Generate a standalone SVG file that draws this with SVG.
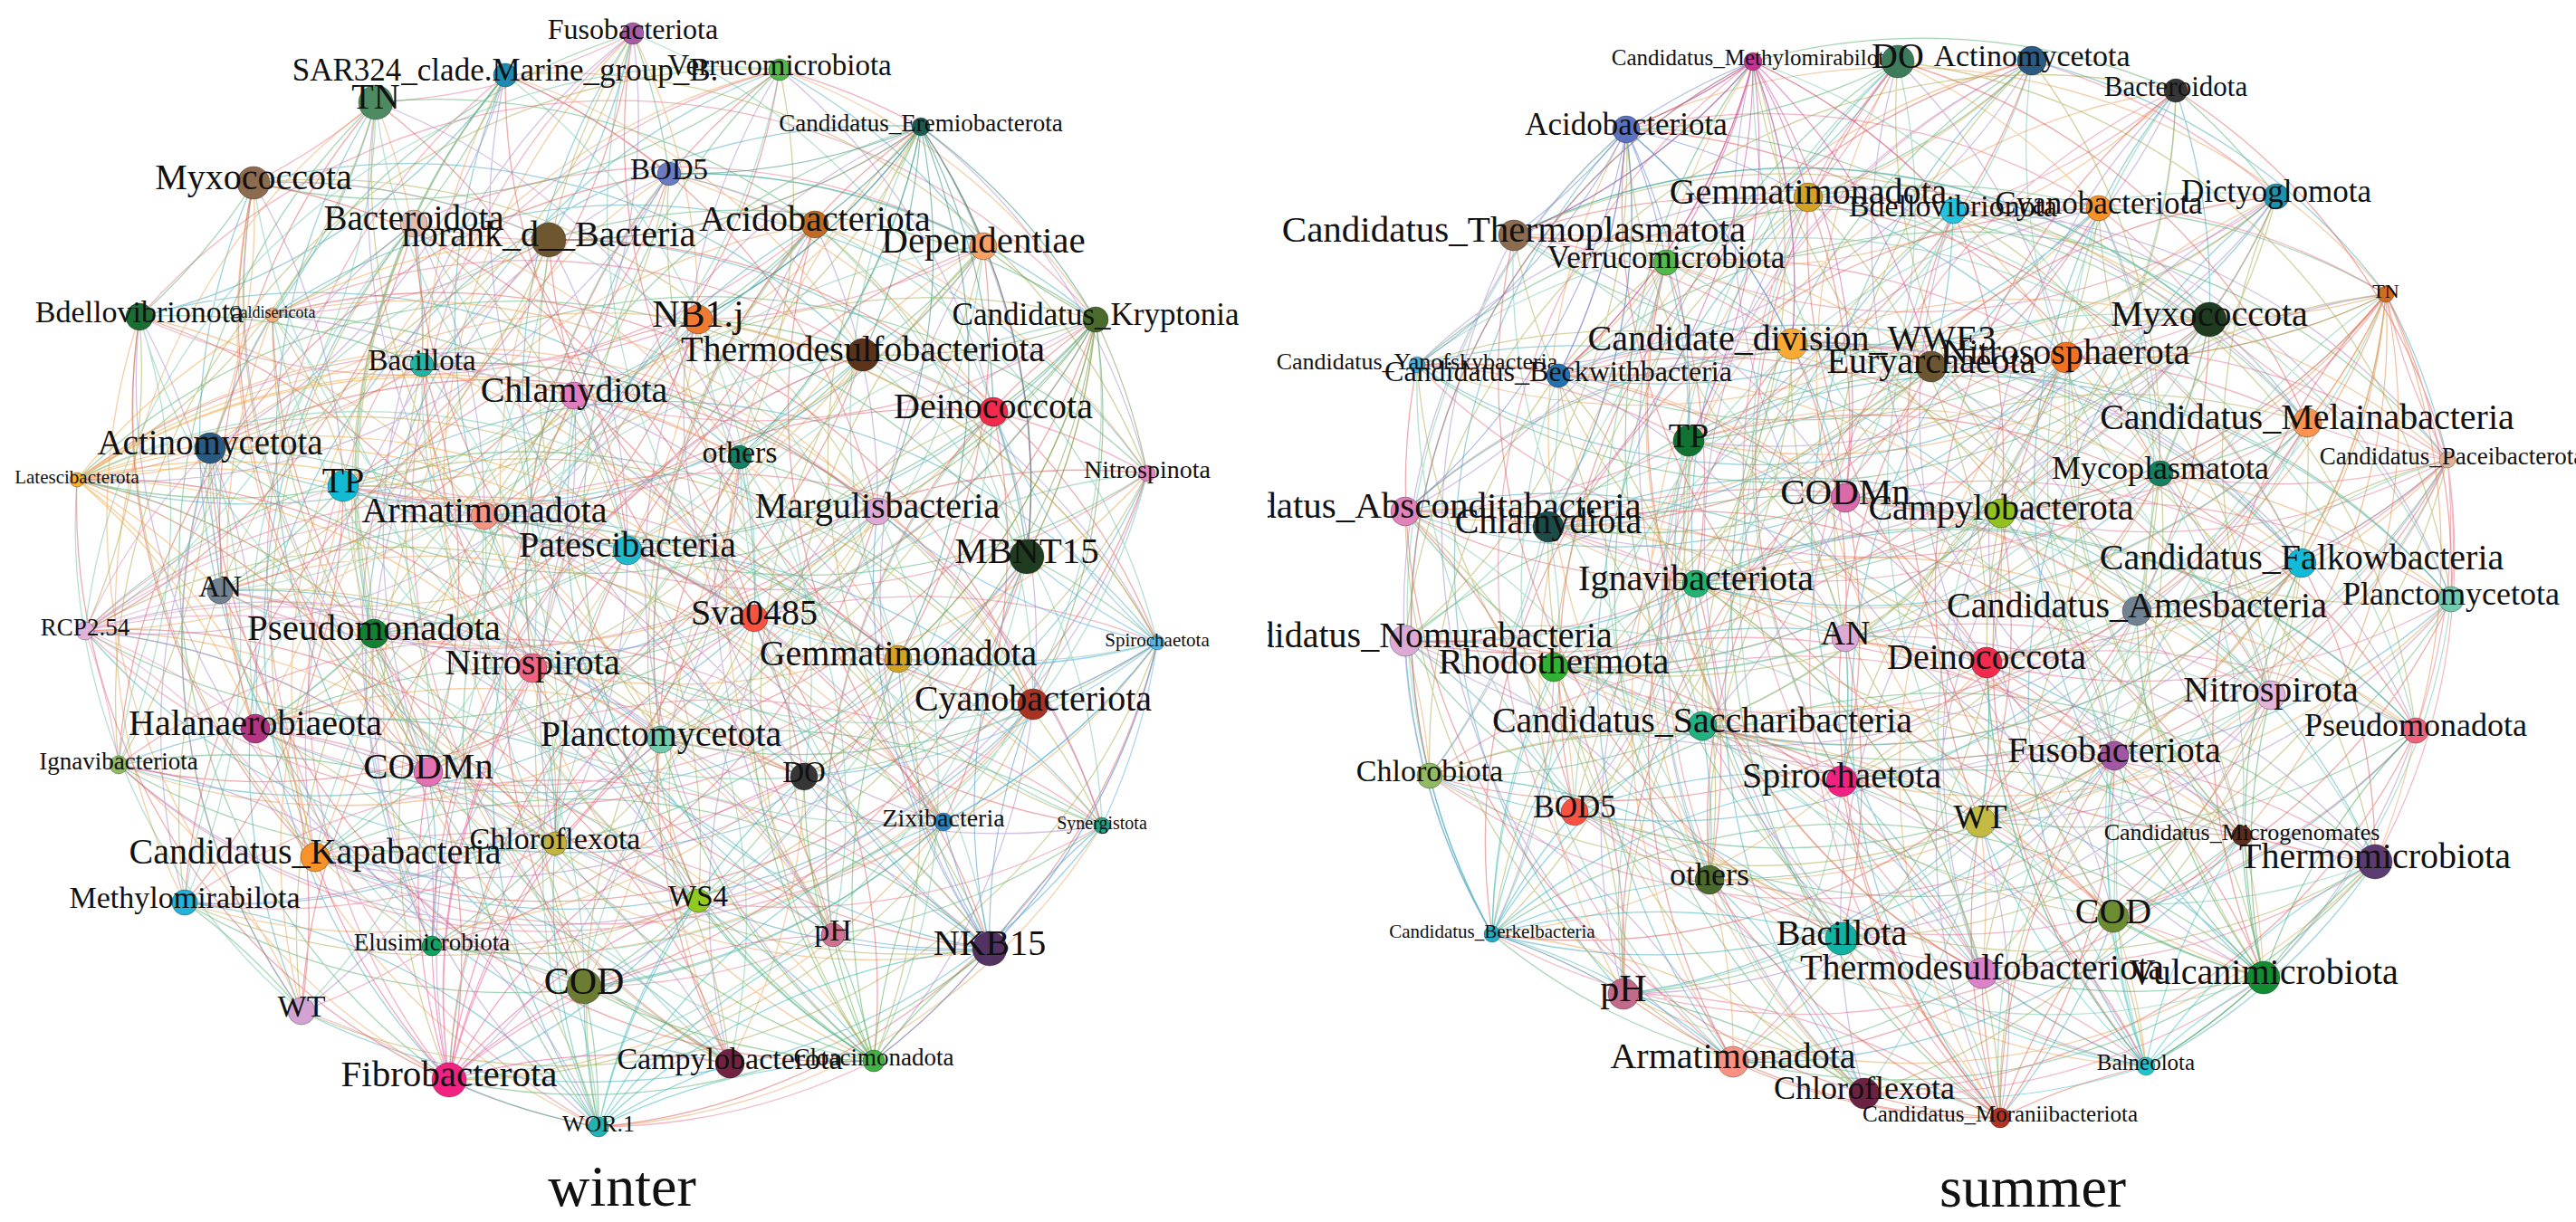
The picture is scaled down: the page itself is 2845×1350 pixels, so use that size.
<svg xmlns="http://www.w3.org/2000/svg" width="2845" height="1350" viewBox="0 0 2845 1350">
<style>
.e{fill:none;stroke-width:1.3;stroke-opacity:.5}
.f{fill:none;stroke-width:1.2;stroke-opacity:.55}
.n circle{stroke:#000;stroke-opacity:.3;stroke-width:1}
.n text{font-family:"Liberation Serif","Times New Roman",serif;text-anchor:middle;fill:#111}
.t{font-family:"Liberation Serif","Times New Roman",serif;font-size:64px;text-anchor:middle;fill:#111}
</style>
<defs><clipPath id="cs"><rect x="1400" y="0" width="1445" height="1350"/></clipPath></defs>
<rect width="2845" height="1350" fill="#fff"/>
<g id="winter">
<g id="winter-edges">
<path class="e" stroke="#e8708c" d="M699 37A700 700 0 0 1 415 113 700 700 0 0 1 280 202 700 700 0 0 1 606 265 700 700 0 0 1 301 348 700 700 0 0 1 953 392 700 700 0 0 1 1097 455 700 700 0 0 1 1267 523 700 700 0 0 1 535 570 700 700 0 0 1 1134 615 700 700 0 0 1 94 697 700 700 0 0 1 992 728 700 700 0 0 1 282 805 700 700 0 0 1 473 853 700 700 0 0 1 1217 912 700 700 0 0 1 771 995 700 700 0 0 1 477 1045 700 700 0 0 1 333 1117 700 700 0 0 1 496 1193 700 700 0 0 1 861 77 700 700 0 0 1 1017 140 700 700 0 0 1 457 247 700 700 0 0 1 1086 272 700 700 0 0 1 771 353 700 700 0 0 1 466 403 700 700 0 0 1 232 495 700 700 0 0 1 85 530 700 700 0 0 1 969 565 700 700 0 0 1 243 653 700 700 0 0 1 413 700 700 700 0 0 1 588 738 700 700 0 0 1 730 817 700 700 0 0 1 888 858 700 700 0 0 1 613 932 700 700 0 0 1 204 997 700 700 0 0 1 1093 1048 700 700 0 0 1 965 1172 700 700 0 0 1 661 1245 700 700 0 0 1 558 83 700 700 0 0 1 739 192 700 700 0 0 1 900 248 700 700 0 0 1 154 350 700 700 0 0 1 1210 353 700 700 0 0 1 634 437 700 700 0 0 1 817 505 700 700 0 0 1 379 537 700 700 0 0 1 693 608 700 700 0 0 1 833 683 700 700 0 0 1 1278 710 700 700 0 0 1 1141 778 700 700 0 0 1 131 845 700 700 0 0 1 1042 908 700 700 0 0 1 348 947 700 700 0 0 1 920 1033 700 700 0 0 1 645 1090 700 700 0 0 1 806 1175 700 700 0 0 1 699 37"/>
<path class="e" stroke="#4fae6a" d="M699 37A700 700 0 0 1 739 192 700 700 0 0 1 1086 272 700 700 0 0 1 953 392 700 700 0 0 1 817 505 700 700 0 0 1 969 565 700 700 0 0 1 94 697 700 700 0 0 1 1141 778 700 700 0 0 1 888 858 700 700 0 0 1 771 995 700 700 0 0 1 645 1090 700 700 0 0 1 661 1245 700 700 0 0 1 1017 140 700 700 0 0 1 606 265 700 700 0 0 1 1210 353 700 700 0 0 1 232 495 700 700 0 0 1 535 570 700 700 0 0 1 833 683 700 700 0 0 1 588 738 700 700 0 0 1 473 853 700 700 0 0 1 348 947 700 700 0 0 1 1093 1048 700 700 0 0 1 496 1193 700 700 0 0 1 415 113 700 700 0 0 1 900 248 700 700 0 0 1 771 353 700 700 0 0 1 1097 455 700 700 0 0 1 379 537 700 700 0 0 1 243 653 700 700 0 0 1 992 728 700 700 0 0 1 131 845 700 700 0 0 1 613 932 700 700 0 0 1 477 1045 700 700 0 0 1 806 1175 700 700 0 0 1 558 83 700 700 0 0 1 457 247 700 700 0 0 1 301 348 700 700 0 0 1 634 437 700 700 0 0 1 85 530 700 700 0 0 1 1134 615 700 700 0 0 1 1278 710 700 700 0 0 1 730 817 700 700 0 0 1 1217 912 700 700 0 0 1 920 1033 700 700 0 0 1 965 1172 700 700 0 0 1 861 77 700 700 0 0 1 280 202 700 700 0 0 1 154 350 700 700 0 0 1 466 403 700 700 0 0 1 1267 523 700 700 0 0 1 693 608 700 700 0 0 1 413 700 700 700 0 0 1 282 805 700 700 0 0 1 1042 908 700 700 0 0 1 204 997 700 700 0 0 1 333 1117 700 700 0 0 1 699 37"/>
<path class="e" stroke="#3aa6ba" d="M699 37A700 700 0 0 1 606 265 700 700 0 0 1 1097 455 700 700 0 0 1 1134 615 700 700 0 0 1 282 805 700 700 0 0 1 771 995 700 700 0 0 1 496 1193 700 700 0 0 1 457 247 700 700 0 0 1 466 403 700 700 0 0 1 969 565 700 700 0 0 1 588 738 700 700 0 0 1 613 932 700 700 0 0 1 965 1172 700 700 0 0 1 739 192 700 700 0 0 1 1210 353 700 700 0 0 1 379 537 700 700 0 0 1 1278 710 700 700 0 0 1 1042 908 700 700 0 0 1 645 1090 700 700 0 0 1 415 113 700 700 0 0 1 301 348 700 700 0 0 1 1267 523 700 700 0 0 1 94 697 700 700 0 0 1 473 853 700 700 0 0 1 477 1045 700 700 0 0 1 861 77 700 700 0 0 1 1086 272 700 700 0 0 1 232 495 700 700 0 0 1 243 653 700 700 0 0 1 730 817 700 700 0 0 1 204 997 700 700 0 0 1 661 1245 700 700 0 0 1 900 248 700 700 0 0 1 634 437 700 700 0 0 1 693 608 700 700 0 0 1 1141 778 700 700 0 0 1 348 947 700 700 0 0 1 806 1175 700 700 0 0 1 280 202 700 700 0 0 1 953 392 700 700 0 0 1 535 570 700 700 0 0 1 992 728 700 700 0 0 1 1217 912 700 700 0 0 1 333 1117 700 700 0 0 1 1017 140 700 700 0 0 1 771 353 700 700 0 0 1 85 530 700 700 0 0 1 413 700 700 700 0 0 1 888 858 700 700 0 0 1 1093 1048 700 700 0 0 1 558 83 700 700 0 0 1 154 350 700 700 0 0 1 817 505 700 700 0 0 1 833 683 700 700 0 0 1 131 845 700 700 0 0 1 920 1033 700 700 0 0 1 699 37"/>
<path class="e" stroke="#eca050" d="M699 37A700 700 0 0 1 771 353 700 700 0 0 1 693 608 700 700 0 0 1 473 853 700 700 0 0 1 965 1172 700 700 0 0 1 606 265 700 700 0 0 1 85 530 700 700 0 0 1 1141 778 700 700 0 0 1 477 1045 700 700 0 0 1 739 192 700 700 0 0 1 1097 455 700 700 0 0 1 413 700 700 700 0 0 1 348 947 700 700 0 0 1 861 77 700 700 0 0 1 1210 353 700 700 0 0 1 1134 615 700 700 0 0 1 888 858 700 700 0 0 1 806 1175 700 700 0 0 1 1086 272 700 700 0 0 1 379 537 700 700 0 0 1 282 805 700 700 0 0 1 1093 1048 700 700 0 0 1 280 202 700 700 0 0 1 232 495 700 700 0 0 1 1278 710 700 700 0 0 1 771 995 700 700 0 0 1 558 83 700 700 0 0 1 953 392 700 700 0 0 1 243 653 700 700 0 0 1 1042 908 700 700 0 0 1 496 1193 700 700 0 0 1 154 350 700 700 0 0 1 535 570 700 700 0 0 1 730 817 700 700 0 0 1 645 1090 700 700 0 0 1 457 247 700 700 0 0 1 817 505 700 700 0 0 1 992 728 700 700 0 0 1 204 997 700 700 0 0 1 415 113 700 700 0 0 1 466 403 700 700 0 0 1 833 683 700 700 0 0 1 1217 912 700 700 0 0 1 661 1245 700 700 0 0 1 301 348 700 700 0 0 1 969 565 700 700 0 0 1 131 845 700 700 0 0 1 333 1117 700 700 0 0 1 900 248 700 700 0 0 1 1267 523 700 700 0 0 1 588 738 700 700 0 0 1 920 1033 700 700 0 0 1 1017 140 700 700 0 0 1 634 437 700 700 0 0 1 94 697 700 700 0 0 1 613 932 700 700 0 0 1 699 37"/>
<path class="e" stroke="#a783c9" d="M699 37A700 700 0 0 1 634 437 700 700 0 0 1 588 738 700 700 0 0 1 333 1117 700 700 0 0 1 301 348 700 700 0 0 1 833 683 700 700 0 0 1 204 997 700 700 0 0 1 457 247 700 700 0 0 1 535 570 700 700 0 0 1 1042 908 700 700 0 0 1 558 83 700 700 0 0 1 232 495 700 700 0 0 1 282 805 700 700 0 0 1 806 1175 700 700 0 0 1 1210 353 700 700 0 0 1 413 700 700 700 0 0 1 477 1045 700 700 0 0 1 606 265 700 700 0 0 1 693 608 700 700 0 0 1 613 932 700 700 0 0 1 1017 140 700 700 0 0 1 1267 523 700 700 0 0 1 131 845 700 700 0 0 1 661 1245 700 700 0 0 1 466 403 700 700 0 0 1 992 728 700 700 0 0 1 645 1090 700 700 0 0 1 154 350 700 700 0 0 1 243 653 700 700 0 0 1 771 995 700 700 0 0 1 280 202 700 700 0 0 1 379 537 700 700 0 0 1 888 858 700 700 0 0 1 861 77 700 700 0 0 1 1097 455 700 700 0 0 1 1141 778 700 700 0 0 1 965 1172 700 700 0 0 1 771 353 700 700 0 0 1 94 697 700 700 0 0 1 920 1033 700 700 0 0 1 900 248 700 700 0 0 1 969 565 700 700 0 0 1 1217 912 700 700 0 0 1 415 113 700 700 0 0 1 817 505 700 700 0 0 1 730 817 700 700 0 0 1 496 1193 700 700 0 0 1 953 392 700 700 0 0 1 1278 710 700 700 0 0 1 1093 1048 700 700 0 0 1 1086 272 700 700 0 0 1 1134 615 700 700 0 0 1 348 947 700 700 0 0 1 739 192 700 700 0 0 1 85 530 700 700 0 0 1 473 853 700 700 0 0 1 699 37"/>
<path class="e" stroke="#a8a84a" d="M699 37A700 700 0 0 1 232 495 700 700 0 0 1 131 845 700 700 0 0 1 861 77 700 700 0 0 1 817 505 700 700 0 0 1 473 853 700 700 0 0 1 558 83 700 700 0 0 1 1267 523 700 700 0 0 1 888 858 700 700 0 0 1 415 113 700 700 0 0 1 85 530 700 700 0 0 1 1042 908 700 700 0 0 1 1017 140 700 700 0 0 1 379 537 700 700 0 0 1 1217 912 700 700 0 0 1 739 192 700 700 0 0 1 535 570 700 700 0 0 1 613 932 700 700 0 0 1 280 202 700 700 0 0 1 969 565 700 700 0 0 1 348 947 700 700 0 0 1 457 247 700 700 0 0 1 693 608 700 700 0 0 1 771 995 700 700 0 0 1 900 248 700 700 0 0 1 1134 615 700 700 0 0 1 204 997 700 700 0 0 1 606 265 700 700 0 0 1 243 653 700 700 0 0 1 920 1033 700 700 0 0 1 1086 272 700 700 0 0 1 833 683 700 700 0 0 1 477 1045 700 700 0 0 1 154 350 700 700 0 0 1 94 697 700 700 0 0 1 1093 1048 700 700 0 0 1 301 348 700 700 0 0 1 413 700 700 700 0 0 1 645 1090 700 700 0 0 1 771 353 700 700 0 0 1 1278 710 700 700 0 0 1 333 1117 700 700 0 0 1 1210 353 700 700 0 0 1 992 728 700 700 0 0 1 965 1172 700 700 0 0 1 953 392 700 700 0 0 1 588 738 700 700 0 0 1 806 1175 700 700 0 0 1 466 403 700 700 0 0 1 1141 778 700 700 0 0 1 496 1193 700 700 0 0 1 634 437 700 700 0 0 1 282 805 700 700 0 0 1 661 1245 700 700 0 0 1 1097 455 700 700 0 0 1 730 817 700 700 0 0 1 699 37"/>
<path class="e" stroke="#e05858" d="M699 37A700 700 0 0 1 379 537 700 700 0 0 1 204 997 700 700 0 0 1 771 353 700 700 0 0 1 282 805 700 700 0 0 1 415 113 700 700 0 0 1 693 608 700 700 0 0 1 1093 1048 700 700 0 0 1 466 403 700 700 0 0 1 473 853 700 700 0 0 1 280 202 700 700 0 0 1 833 683 700 700 0 0 1 965 1172 700 700 0 0 1 232 495 700 700 0 0 1 1217 912 700 700 0 0 1 606 265 700 700 0 0 1 1278 710 700 700 0 0 1 661 1245 700 700 0 0 1 85 530 700 700 0 0 1 771 995 700 700 0 0 1 301 348 700 700 0 0 1 1141 778 700 700 0 0 1 558 83 700 700 0 0 1 969 565 700 700 0 0 1 477 1045 700 700 0 0 1 953 392 700 700 0 0 1 131 845 700 700 0 0 1 739 192 700 700 0 0 1 243 653 700 700 0 0 1 333 1117 700 700 0 0 1 1097 455 700 700 0 0 1 1042 908 700 700 0 0 1 900 248 700 700 0 0 1 413 700 700 700 0 0 1 496 1193 700 700 0 0 1 1267 523 700 700 0 0 1 348 947 700 700 0 0 1 154 350 700 700 0 0 1 588 738 700 700 0 0 1 861 77 700 700 0 0 1 535 570 700 700 0 0 1 920 1033 700 700 0 0 1 1210 353 700 700 0 0 1 730 817 700 700 0 0 1 1017 140 700 700 0 0 1 1134 615 700 700 0 0 1 645 1090 700 700 0 0 1 634 437 700 700 0 0 1 888 858 700 700 0 0 1 457 247 700 700 0 0 1 94 697 700 700 0 0 1 806 1175 700 700 0 0 1 817 505 700 700 0 0 1 613 932 700 700 0 0 1 1086 272 700 700 0 0 1 992 728 700 700 0 0 1 699 37"/>
<path class="e" stroke="#6cc4a4" d="M699 37A700 700 0 0 1 1134 615 700 700 0 0 1 496 1193 700 700 0 0 1 969 565 700 700 0 0 1 965 1172 700 700 0 0 1 379 537 700 700 0 0 1 645 1090 700 700 0 0 1 1267 523 700 700 0 0 1 477 1045 700 700 0 0 1 232 495 700 700 0 0 1 204 997 700 700 0 0 1 634 437 700 700 0 0 1 348 947 700 700 0 0 1 953 392 700 700 0 0 1 1217 912 700 700 0 0 1 771 353 700 700 0 0 1 888 858 700 700 0 0 1 154 350 700 700 0 0 1 131 845 700 700 0 0 1 606 265 700 700 0 0 1 282 805 700 700 0 0 1 457 247 700 700 0 0 1 588 738 700 700 0 0 1 739 192 700 700 0 0 1 1278 710 700 700 0 0 1 415 113 700 700 0 0 1 94 697 700 700 0 0 1 861 77 700 700 0 0 1 243 653 700 700 0 0 1 661 1245 700 700 0 0 1 693 608 700 700 0 0 1 806 1175 700 700 0 0 1 535 570 700 700 0 0 1 333 1117 700 700 0 0 1 85 530 700 700 0 0 1 1093 1048 700 700 0 0 1 817 505 700 700 0 0 1 920 1033 700 700 0 0 1 1097 455 700 700 0 0 1 771 995 700 700 0 0 1 466 403 700 700 0 0 1 613 932 700 700 0 0 1 1210 353 700 700 0 0 1 1042 908 700 700 0 0 1 301 348 700 700 0 0 1 473 853 700 700 0 0 1 1086 272 700 700 0 0 1 730 817 700 700 0 0 1 900 248 700 700 0 0 1 1141 778 700 700 0 0 1 280 202 700 700 0 0 1 992 728 700 700 0 0 1 1017 140 700 700 0 0 1 413 700 700 700 0 0 1 558 83 700 700 0 0 1 833 683 700 700 0 0 1 699 37"/>
<path class="f" stroke="#f2a43a" d="M85 530A700 700 0 0 1 379 537M85 530A700 700 0 0 1 535 570M85 530A700 700 0 0 1 693 608M85 530A700 700 0 0 1 833 683M85 530A700 700 0 0 1 817 505M85 530A700 700 0 0 1 413 700M85 530A700 700 0 0 1 282 805M85 530A700 700 0 0 1 634 437M85 530A700 700 0 0 1 466 403M85 530A700 700 0 0 1 473 853M85 530A700 700 0 0 1 348 947M85 530A700 700 0 0 1 606 265M85 530A700 700 0 0 1 243 653M85 530A700 700 0 0 1 588 738"/>
<path class="f" stroke="#f0508a" d="M496 1193A700 700 0 0 1 613 932M496 1193A700 700 0 0 1 771 995M496 1193A700 700 0 0 1 477 1045M496 1193A700 700 0 0 1 645 1090M496 1193A700 700 0 0 1 473 853M496 1193A700 700 0 0 1 730 817M496 1193A700 700 0 0 1 588 738M496 1193A700 700 0 0 1 920 1033M496 1193A700 700 0 0 1 888 858M496 1193A700 700 0 0 1 348 947M496 1193A700 700 0 0 1 806 1175M496 1193A700 700 0 0 1 693 608M496 1193A700 700 0 0 1 833 683"/>
<path class="f" stroke="#2a8a7a" d="M1017 140A700 700 0 0 1 900 248M1017 140A700 700 0 0 1 953 392M1017 140A700 700 0 0 1 1086 272M1017 140A700 700 0 0 1 1097 455M1017 140A700 700 0 0 1 969 565M1017 140A700 700 0 0 1 771 353M1017 140A700 700 0 0 1 817 505M1017 140A700 700 0 0 1 1134 615M1017 140A700 700 0 0 1 1210 353M1017 140A700 700 0 0 1 739 192M1017 140A700 700 0 0 1 992 728"/>
<path class="f" stroke="#6a9a4a" d="M1210 353A700 700 0 0 1 1097 455M1210 353A700 700 0 0 1 1134 615M1210 353A700 700 0 0 1 969 565M1210 353A700 700 0 0 1 992 728M1210 353A700 700 0 0 1 1141 778M1210 353A700 700 0 0 1 953 392M1210 353A700 700 0 0 1 1086 272M1210 353A700 700 0 0 1 833 683M1210 353A700 700 0 0 1 888 858M1210 353A700 700 0 0 1 1267 523"/>
<path class="f" stroke="#4a98c8" d="M1093 1048A700 700 0 0 1 1042 908M1093 1048A700 700 0 0 1 888 858M1093 1048A700 700 0 0 1 1141 778M1093 1048A700 700 0 0 1 992 728M1093 1048A700 700 0 0 1 920 1033M1093 1048A700 700 0 0 1 1134 615M1093 1048A700 700 0 0 1 833 683M1093 1048A700 700 0 0 1 1217 912M1093 1048A700 700 0 0 1 965 1172M1093 1048A700 700 0 0 1 771 995M1093 1048A700 700 0 0 1 969 565"/>
<path class="f" stroke="#5ab0e6" d="M1278 710A700 700 0 0 1 1141 778M1278 710A700 700 0 0 1 1134 615M1278 710A700 700 0 0 1 992 728M1278 710A700 700 0 0 1 1042 908M1278 710A700 700 0 0 1 1217 912M1278 710A700 700 0 0 1 1093 1048M1278 710A700 700 0 0 1 833 683M1278 710A700 700 0 0 1 969 565M1278 710A700 700 0 0 1 1097 455M1278 710A700 700 0 0 1 888 858"/>
<path class="f" stroke="#e488b8" d="M94 697A700 700 0 0 1 243 653M94 697A700 700 0 0 1 413 700M94 697A700 700 0 0 1 282 805M94 697A700 700 0 0 1 473 853M94 697A700 700 0 0 1 379 537M94 697A700 700 0 0 1 232 495M94 697A700 700 0 0 1 348 947M94 697A700 700 0 0 1 588 738M94 697A700 700 0 0 1 535 570M94 697A700 700 0 0 1 131 845"/>
<path class="f" stroke="#2ab4b4" d="M661 1245A700 700 0 0 1 645 1090M661 1245A700 700 0 0 1 806 1175M661 1245A700 700 0 0 1 771 995M661 1245A700 700 0 0 1 965 1172M661 1245A700 700 0 0 1 920 1033M661 1245A700 700 0 0 1 613 932M661 1245A700 700 0 0 1 1093 1048M661 1245A700 700 0 0 1 1042 908M661 1245A700 700 0 0 1 888 858M661 1245A700 700 0 0 1 496 1193"/>
<path class="f" stroke="#4cb24c" d="M965 1172A700 700 0 0 1 1093 1048M965 1172A700 700 0 0 1 920 1033M965 1172A700 700 0 0 1 771 995M965 1172A700 700 0 0 1 1042 908M965 1172A700 700 0 0 1 888 858M965 1172A700 700 0 0 1 730 817M965 1172A700 700 0 0 1 833 683M965 1172A700 700 0 0 1 645 1090M965 1172A700 700 0 0 1 613 932M965 1172A700 700 0 0 1 992 728"/>
</g>
<g id="winter-nodes" class="n">
<g id="w-Fusobacteriota"><circle cx="699" cy="37" r="12" fill="#a85ca8"/><text x="699" y="43" font-size="32">Fusobacteriota</text></g>
<g id="w-Verrucomicrobiota"><circle cx="861" cy="77" r="12" fill="#55b84a"/><text x="861" y="83" font-size="33">Verrucomicrobiota</text></g>
<g id="w-SAR324"><circle cx="558" cy="83" r="13" fill="#1b8bb2"/><text x="558" y="89" font-size="35">SAR324_clade.Marine_group_B.</text></g>
<g id="w-TN"><circle cx="415" cy="113" r="19" fill="#4d8a62"/><text x="415" y="120" font-size="40">TN</text></g>
<g id="w-Eremiobacterota"><circle cx="1017" cy="140" r="10" fill="#1b5c52"/><text x="1017" y="145" font-size="27">Candidatus_Eremiobacterota</text></g>
<g id="w-BOD5"><circle cx="739" cy="192" r="13" fill="#6b7bc2"/><text x="739" y="198" font-size="33">BOD5</text></g>
<g id="w-Myxococcota"><circle cx="280" cy="202" r="18" fill="#8c6b4f"/><text x="280" y="209" font-size="40">Myxococcota</text></g>
<g id="w-Bacteroidota"><circle cx="457" cy="247" r="15" fill="#e4bcac"/><text x="457" y="254" font-size="39">Bacteroidota</text></g>
<g id="w-Acidobacteriota"><circle cx="900" cy="248" r="15" fill="#c26a22"/><text x="900" y="255" font-size="40">Acidobacteriota</text></g>
<g id="w-norank"><circle cx="606" cy="265" r="19" fill="#6e5630"/><text x="606" y="272" font-size="40">norank_d__Bacteria</text></g>
<g id="w-Dependentiae"><circle cx="1086" cy="272" r="15" fill="#f9a062"/><text x="1086" y="279" font-size="41">Dependentiae</text></g>
<g id="w-Bdellovibrionota"><circle cx="154" cy="350" r="15" fill="#1b6e32"/><text x="154" y="356" font-size="34">Bdellovibrionota</text></g>
<g id="w-Caldisericota"><circle cx="301" cy="348" r="8" fill="#f5b07e"/><text x="301" y="351" font-size="18">Caldisericota</text></g>
<g id="w-NB1j"><circle cx="771" cy="353" r="16" fill="#f27a30"/><text x="771" y="361" font-size="42">NB1.j</text></g>
<g id="w-Kryptonia"><circle cx="1210" cy="353" r="14" fill="#4b6b2e"/><text x="1210" y="359" font-size="35">Candidatus_Kryptonia</text></g>
<g id="w-Thermodesulfobacteriota"><circle cx="953" cy="392" r="18" fill="#5c321a"/><text x="953" y="399" font-size="40">Thermodesulfobacteriota</text></g>
<g id="w-Bacillota"><circle cx="466" cy="403" r="13" fill="#22b4a4"/><text x="466" y="409" font-size="33">Bacillota</text></g>
<g id="w-Chlamydiota"><circle cx="634" cy="437" r="15" fill="#e27cc0"/><text x="634" y="444" font-size="40">Chlamydiota</text></g>
<g id="w-Deinococcota"><circle cx="1097" cy="455" r="16" fill="#f22a4c"/><text x="1097" y="462" font-size="40">Deinococcota</text></g>
<g id="w-Actinomycetota"><circle cx="232" cy="495" r="17" fill="#2b5a80"/><text x="232" y="502" font-size="39">Actinomycetota</text></g>
<g id="w-others"><circle cx="817" cy="505" r="13" fill="#128262"/><text x="817" y="511" font-size="34">others</text></g>
<g id="w-Nitrospinota"><circle cx="1267" cy="523" r="9" fill="#e285c4"/><text x="1267" y="528" font-size="28">Nitrospinota</text></g>
<g id="w-Latescibacterota"><circle cx="85" cy="530" r="8" fill="#f8b232"/><text x="85" y="534" font-size="21">Latescibacterota</text></g>
<g id="w-TP"><circle cx="379" cy="537" r="17" fill="#12bad4"/><text x="379" y="544" font-size="40">TP</text></g>
<g id="w-Armatimonadota"><circle cx="535" cy="570" r="15" fill="#f99282"/><text x="535" y="577" font-size="40">Armatimonadota</text></g>
<g id="w-Margulisbacteria"><circle cx="969" cy="565" r="15" fill="#dcaad4"/><text x="969" y="572" font-size="40">Margulisbacteria</text></g>
<g id="w-Patescibacteria"><circle cx="693" cy="608" r="16" fill="#22bacb"/><text x="693" y="615" font-size="40">Patescibacteria</text></g>
<g id="w-MBNT15"><circle cx="1134" cy="615" r="19" fill="#203c20"/><text x="1134" y="622" font-size="41">MBNT15</text></g>
<g id="w-AN"><circle cx="243" cy="653" r="14" fill="#718292"/><text x="243" y="659" font-size="33">AN</text></g>
<g id="w-Sva0485"><circle cx="833" cy="683" r="15" fill="#fa5242"/><text x="833" y="690" font-size="40">Sva0485</text></g>
<g id="w-RCP254"><circle cx="94" cy="697" r="10" fill="#e2b4dc"/><text x="94" y="702" font-size="27">RCP2.54</text></g>
<g id="w-Pseudomonadota"><circle cx="413" cy="700" r="16" fill="#118232"/><text x="413" y="707" font-size="41">Pseudomonadota</text></g>
<g id="w-Spirochaetota"><circle cx="1278" cy="710" r="8" fill="#55b4e4"/><text x="1278" y="714" font-size="21">Spirochaetota</text></g>
<g id="w-Gemmatimonadota"><circle cx="992" cy="728" r="15" fill="#d4a222"/><text x="992" y="735" font-size="40">Gemmatimonadota</text></g>
<g id="w-Nitrospirota"><circle cx="588" cy="738" r="16" fill="#f26282"/><text x="588" y="745" font-size="40">Nitrospirota</text></g>
<g id="w-Cyanobacteriota"><circle cx="1141" cy="778" r="17" fill="#aa3222"/><text x="1141" y="785" font-size="40">Cyanobacteriota</text></g>
<g id="w-Halanaerobiaeota"><circle cx="282" cy="805" r="16" fill="#b23482"/><text x="282" y="812" font-size="40">Halanaerobiaeota</text></g>
<g id="w-Planctomycetota"><circle cx="730" cy="817" r="15" fill="#74caae"/><text x="730" y="824" font-size="40">Planctomycetota</text></g>
<g id="w-Ignavibacteriota"><circle cx="131" cy="845" r="10" fill="#92ba62"/><text x="131" y="850" font-size="27">Ignavibacteriota</text></g>
<g id="w-CODMn"><circle cx="473" cy="853" r="16" fill="#e272b4"/><text x="473" y="860" font-size="41">CODMn</text></g>
<g id="w-DO"><circle cx="888" cy="858" r="15" fill="#363636"/><text x="888" y="864" font-size="33">DO</text></g>
<g id="w-Zixibacteria"><circle cx="1042" cy="908" r="10" fill="#2282c2"/><text x="1042" y="913" font-size="28">Zixibacteria</text></g>
<g id="w-Synergistota"><circle cx="1217" cy="912" r="9" fill="#22a282"/><text x="1217" y="916" font-size="20">Synergistota</text></g>
<g id="w-Chloroflexota"><circle cx="613" cy="932" r="13" fill="#c2b242"/><text x="613" y="938" font-size="34">Chloroflexota</text></g>
<g id="w-Kapabacteria"><circle cx="348" cy="947" r="16" fill="#fa922a"/><text x="348" y="954" font-size="40">Candidatus_Kapabacteria</text></g>
<g id="w-WS4"><circle cx="771" cy="995" r="13" fill="#92ca22"/><text x="771" y="1001" font-size="33">WS4</text></g>
<g id="w-Methylomirabilota"><circle cx="204" cy="997" r="14" fill="#22b2da"/><text x="204" y="1003" font-size="34">Methylomirabilota</text></g>
<g id="w-pH"><circle cx="920" cy="1033" r="13" fill="#d27292"/><text x="920" y="1039" font-size="34">pH</text></g>
<g id="w-Elusimicrobiota"><circle cx="477" cy="1045" r="11" fill="#12a262"/><text x="477" y="1050" font-size="27">Elusimicrobiota</text></g>
<g id="w-NKB15"><circle cx="1093" cy="1048" r="19" fill="#523262"/><text x="1093" y="1055" font-size="40">NKB15</text></g>
<g id="w-COD"><circle cx="645" cy="1090" r="19" fill="#6c7c32"/><text x="645" y="1098" font-size="42">COD</text></g>
<g id="w-WT"><circle cx="333" cy="1117" r="15" fill="#d2a2d2"/><text x="333" y="1123" font-size="34">WT</text></g>
<g id="w-Cloacimonadota"><circle cx="965" cy="1172" r="12" fill="#42b242"/><text x="965" y="1177" font-size="27">Cloacimonadota</text></g>
<g id="w-Campylobacterota"><circle cx="806" cy="1175" r="16" fill="#722242"/><text x="806" y="1181" font-size="34">Campylobacterota</text></g>
<g id="w-Fibrobacterota"><circle cx="496" cy="1193" r="19" fill="#f22282"/><text x="496" y="1200" font-size="41">Fibrobacterota</text></g>
<g id="w-WOR1"><circle cx="661" cy="1245" r="11" fill="#22b2b2"/><text x="661" y="1250" font-size="26">WOR.1</text></g>
</g>
<text class="t" x="687" y="1332">winter</text>
</g>
<g id="summer" clip-path="url(#cs)">
<g id="summer-edges">
<path class="e" stroke="#4fae6a" d="M1936 68A700 700 0 0 1 2403 100 700 700 0 0 1 2514 217 700 700 0 0 1 1672 260 700 700 0 0 1 2440 353 700 700 0 0 1 1565 403 700 700 0 0 1 2548 467 700 700 0 0 1 2386 523 700 700 0 0 1 2210 567 700 700 0 0 1 1873 645 700 700 0 0 1 2038 705 700 700 0 0 1 1716 737 700 700 0 0 1 2668 807 700 700 0 0 1 2034 863 700 700 0 0 1 2476 923 700 700 0 0 1 2334 1013 700 700 0 0 1 2189 1075 700 700 0 0 1 1914 1173 700 700 0 0 1 2209 1235 700 700 0 0 1 2244 67 700 700 0 0 1 1997 218 700 700 0 0 1 2318 230 700 700 0 0 1 2635 325 700 700 0 0 1 2282 395 700 700 0 0 1 1721 415 700 700 0 0 1 2703 508 700 700 0 0 1 1552 565 700 700 0 0 1 2542 622 700 700 0 0 1 2360 675 700 700 0 0 1 2194 732 700 700 0 0 1 1880 802 700 700 0 0 1 1579 857 700 700 0 0 1 2187 908 700 700 0 0 1 1888 972 700 700 0 0 1 2034 1037 700 700 0 0 1 1793 1098 700 700 0 0 1 2059 1208 700 700 0 0 1 2096 68 700 700 0 0 1 1796 143 700 700 0 0 1 2157 233 700 700 0 0 1 1840 290 700 700 0 0 1 1979 380 700 700 0 0 1 2133 405 700 700 0 0 1 1865 487 700 700 0 0 1 2038 550 700 700 0 0 1 1710 582 700 700 0 0 1 2707 662 700 700 0 0 1 1552 708 700 700 0 0 1 2508 768 700 700 0 0 1 2335 835 700 700 0 0 1 1739 897 700 700 0 0 1 2623 952 700 700 0 0 1 1648 1032 700 700 0 0 1 2500 1080 700 700 0 0 1 2370 1178 700 700 0 0 1 1936 68"/>
<path class="e" stroke="#e8708c" d="M1936 68A700 700 0 0 1 1796 143 700 700 0 0 1 2318 230 700 700 0 0 1 2440 353 700 700 0 0 1 2133 405 700 700 0 0 1 2703 508 700 700 0 0 1 2210 567 700 700 0 0 1 2707 662 700 700 0 0 1 2194 732 700 700 0 0 1 2668 807 700 700 0 0 1 1739 897 700 700 0 0 1 1888 972 700 700 0 0 1 2189 1075 700 700 0 0 1 2370 1178 700 700 0 0 1 2096 68 700 700 0 0 1 1997 218 700 700 0 0 1 1672 260 700 700 0 0 1 1979 380 700 700 0 0 1 1721 415 700 700 0 0 1 2386 523 700 700 0 0 1 1710 582 700 700 0 0 1 2360 675 700 700 0 0 1 1716 737 700 700 0 0 1 2335 835 700 700 0 0 1 2187 908 700 700 0 0 1 2334 1013 700 700 0 0 1 2500 1080 700 700 0 0 1 2059 1208 700 700 0 0 1 2244 67 700 700 0 0 1 2514 217 700 700 0 0 1 1840 290 700 700 0 0 1 2282 395 700 700 0 0 1 2548 467 700 700 0 0 1 2038 550 700 700 0 0 1 2542 622 700 700 0 0 1 2038 705 700 700 0 0 1 2508 768 700 700 0 0 1 1579 857 700 700 0 0 1 2476 923 700 700 0 0 1 1648 1032 700 700 0 0 1 1793 1098 700 700 0 0 1 2209 1235 700 700 0 0 1 2403 100 700 700 0 0 1 2157 233 700 700 0 0 1 2635 325 700 700 0 0 1 1565 403 700 700 0 0 1 1865 487 700 700 0 0 1 1552 565 700 700 0 0 1 1873 645 700 700 0 0 1 1552 708 700 700 0 0 1 1880 802 700 700 0 0 1 2034 863 700 700 0 0 1 2623 952 700 700 0 0 1 2034 1037 700 700 0 0 1 1914 1173 700 700 0 0 1 1936 68"/>
<path class="e" stroke="#eca050" d="M1936 68A700 700 0 0 1 2157 233 700 700 0 0 1 2282 395 700 700 0 0 1 2386 523 700 700 0 0 1 2707 662 700 700 0 0 1 1880 802 700 700 0 0 1 2476 923 700 700 0 0 1 2500 1080 700 700 0 0 1 2096 68 700 700 0 0 1 2318 230 700 700 0 0 1 1565 403 700 700 0 0 1 2038 550 700 700 0 0 1 2360 675 700 700 0 0 1 2668 807 700 700 0 0 1 2623 952 700 700 0 0 1 1793 1098 700 700 0 0 1 2244 67 700 700 0 0 1 1672 260 700 700 0 0 1 2133 405 700 700 0 0 1 1552 565 700 700 0 0 1 2038 705 700 700 0 0 1 2335 835 700 700 0 0 1 1888 972 700 700 0 0 1 1914 1173 700 700 0 0 1 2403 100 700 700 0 0 1 1840 290 700 700 0 0 1 1721 415 700 700 0 0 1 2210 567 700 700 0 0 1 1552 708 700 700 0 0 1 1579 857 700 700 0 0 1 2334 1013 700 700 0 0 1 2370 1178 700 700 0 0 1 1796 143 700 700 0 0 1 2635 325 700 700 0 0 1 2548 467 700 700 0 0 1 1710 582 700 700 0 0 1 2194 732 700 700 0 0 1 2034 863 700 700 0 0 1 1648 1032 700 700 0 0 1 2059 1208 700 700 0 0 1 1997 218 700 700 0 0 1 2440 353 700 700 0 0 1 1865 487 700 700 0 0 1 2542 622 700 700 0 0 1 1716 737 700 700 0 0 1 1739 897 700 700 0 0 1 2034 1037 700 700 0 0 1 2209 1235 700 700 0 0 1 2514 217 700 700 0 0 1 1979 380 700 700 0 0 1 2703 508 700 700 0 0 1 1873 645 700 700 0 0 1 2508 768 700 700 0 0 1 2187 908 700 700 0 0 1 2189 1075 700 700 0 0 1 1936 68"/>
<path class="e" stroke="#3aa6ba" d="M1936 68A700 700 0 0 1 1672 260 700 700 0 0 1 2548 467 700 700 0 0 1 1873 645 700 700 0 0 1 2668 807 700 700 0 0 1 2334 1013 700 700 0 0 1 2209 1235 700 700 0 0 1 2318 230 700 700 0 0 1 1721 415 700 700 0 0 1 2542 622 700 700 0 0 1 1880 802 700 700 0 0 1 1888 972 700 700 0 0 1 2059 1208 700 700 0 0 1 2157 233 700 700 0 0 1 2133 405 700 700 0 0 1 1710 582 700 700 0 0 1 2508 768 700 700 0 0 1 2623 952 700 700 0 0 1 2370 1178 700 700 0 0 1 2514 217 700 700 0 0 1 1565 403 700 700 0 0 1 2210 567 700 700 0 0 1 1716 737 700 700 0 0 1 2476 923 700 700 0 0 1 1914 1173 700 700 0 0 1 1997 218 700 700 0 0 1 2282 395 700 700 0 0 1 1552 565 700 700 0 0 1 2194 732 700 700 0 0 1 2187 908 700 700 0 0 1 1793 1098 700 700 0 0 1 1796 143 700 700 0 0 1 1979 380 700 700 0 0 1 2038 550 700 700 0 0 1 1552 708 700 700 0 0 1 1739 897 700 700 0 0 1 2500 1080 700 700 0 0 1 2403 100 700 700 0 0 1 2440 353 700 700 0 0 1 2386 523 700 700 0 0 1 2038 705 700 700 0 0 1 2034 863 700 700 0 0 1 2189 1075 700 700 0 0 1 2244 67 700 700 0 0 1 2635 325 700 700 0 0 1 2703 508 700 700 0 0 1 2360 675 700 700 0 0 1 1579 857 700 700 0 0 1 2034 1037 700 700 0 0 1 2096 68 700 700 0 0 1 1840 290 700 700 0 0 1 1865 487 700 700 0 0 1 2707 662 700 700 0 0 1 2335 835 700 700 0 0 1 1648 1032 700 700 0 0 1 1936 68"/>
<path class="e" stroke="#a783c9" d="M1936 68A700 700 0 0 1 1979 380 700 700 0 0 1 2542 622 700 700 0 0 1 2034 863 700 700 0 0 1 2370 1178 700 700 0 0 1 1840 290 700 700 0 0 1 1552 565 700 700 0 0 1 2668 807 700 700 0 0 1 2500 1080 700 700 0 0 1 2157 233 700 700 0 0 1 2703 508 700 700 0 0 1 1716 737 700 700 0 0 1 1648 1032 700 700 0 0 1 1796 143 700 700 0 0 1 1721 415 700 700 0 0 1 2038 705 700 700 0 0 1 2623 952 700 700 0 0 1 2096 68 700 700 0 0 1 2282 395 700 700 0 0 1 1873 645 700 700 0 0 1 1739 897 700 700 0 0 1 2059 1208 700 700 0 0 1 2635 325 700 700 0 0 1 2210 567 700 700 0 0 1 2335 835 700 700 0 0 1 1793 1098 700 700 0 0 1 2318 230 700 700 0 0 1 2386 523 700 700 0 0 1 2508 768 700 700 0 0 1 2034 1037 700 700 0 0 1 1997 218 700 700 0 0 1 2548 467 700 700 0 0 1 1552 708 700 700 0 0 1 1888 972 700 700 0 0 1 2244 67 700 700 0 0 1 1565 403 700 700 0 0 1 2707 662 700 700 0 0 1 2187 908 700 700 0 0 1 2209 1235 700 700 0 0 1 2440 353 700 700 0 0 1 1710 582 700 700 0 0 1 1579 857 700 700 0 0 1 1914 1173 700 700 0 0 1 1672 260 700 700 0 0 1 2038 550 700 700 0 0 1 1880 802 700 700 0 0 1 2189 1075 700 700 0 0 1 2514 217 700 700 0 0 1 1865 487 700 700 0 0 1 2194 732 700 700 0 0 1 2334 1013 700 700 0 0 1 2403 100 700 700 0 0 1 2133 405 700 700 0 0 1 2360 675 700 700 0 0 1 2476 923 700 700 0 0 1 1936 68"/>
<path class="e" stroke="#e05858" d="M1936 68A700 700 0 0 1 1721 415 700 700 0 0 1 2508 768 700 700 0 0 1 1914 1173 700 700 0 0 1 1979 380 700 700 0 0 1 2038 705 700 700 0 0 1 2034 1037 700 700 0 0 1 1672 260 700 700 0 0 1 2542 622 700 700 0 0 1 2623 952 700 700 0 0 1 1997 218 700 700 0 0 1 2038 550 700 700 0 0 1 2034 863 700 700 0 0 1 2096 68 700 700 0 0 1 2548 467 700 700 0 0 1 1880 802 700 700 0 0 1 2370 1178 700 700 0 0 1 2282 395 700 700 0 0 1 1552 708 700 700 0 0 1 2189 1075 700 700 0 0 1 1840 290 700 700 0 0 1 1873 645 700 700 0 0 1 1888 972 700 700 0 0 1 2514 217 700 700 0 0 1 1552 565 700 700 0 0 1 1739 897 700 700 0 0 1 2244 67 700 700 0 0 1 1865 487 700 700 0 0 1 2668 807 700 700 0 0 1 2059 1208 700 700 0 0 1 1565 403 700 700 0 0 1 2194 732 700 700 0 0 1 2500 1080 700 700 0 0 1 2635 325 700 700 0 0 1 2707 662 700 700 0 0 1 2334 1013 700 700 0 0 1 2157 233 700 700 0 0 1 2210 567 700 700 0 0 1 2187 908 700 700 0 0 1 2403 100 700 700 0 0 1 2703 508 700 700 0 0 1 2335 835 700 700 0 0 1 2209 1235 700 700 0 0 1 2133 405 700 700 0 0 1 1716 737 700 700 0 0 1 1793 1098 700 700 0 0 1 2440 353 700 700 0 0 1 2360 675 700 700 0 0 1 1648 1032 700 700 0 0 1 2318 230 700 700 0 0 1 1710 582 700 700 0 0 1 2476 923 700 700 0 0 1 1796 143 700 700 0 0 1 2386 523 700 700 0 0 1 1579 857 700 700 0 0 1 1936 68"/>
<path class="e" stroke="#6cc4a4" d="M1936 68A700 700 0 0 1 2386 523 700 700 0 0 1 2476 923 700 700 0 0 1 2318 230 700 700 0 0 1 2360 675 700 700 0 0 1 1793 1098 700 700 0 0 1 2133 405 700 700 0 0 1 2335 835 700 700 0 0 1 2403 100 700 700 0 0 1 2210 567 700 700 0 0 1 2334 1013 700 700 0 0 1 2635 325 700 700 0 0 1 2194 732 700 700 0 0 1 2059 1208 700 700 0 0 1 1865 487 700 700 0 0 1 1739 897 700 700 0 0 1 2514 217 700 700 0 0 1 1873 645 700 700 0 0 1 2189 1075 700 700 0 0 1 2282 395 700 700 0 0 1 1880 802 700 700 0 0 1 2096 68 700 700 0 0 1 2038 550 700 700 0 0 1 2623 952 700 700 0 0 1 1672 260 700 700 0 0 1 2038 705 700 700 0 0 1 1914 1173 700 700 0 0 1 1721 415 700 700 0 0 1 1579 857 700 700 0 0 1 1796 143 700 700 0 0 1 1710 582 700 700 0 0 1 1648 1032 700 700 0 0 1 2440 353 700 700 0 0 1 1716 737 700 700 0 0 1 2209 1235 700 700 0 0 1 2703 508 700 700 0 0 1 2187 908 700 700 0 0 1 2157 233 700 700 0 0 1 2707 662 700 700 0 0 1 2500 1080 700 700 0 0 1 1565 403 700 700 0 0 1 2668 807 700 700 0 0 1 2244 67 700 700 0 0 1 1552 565 700 700 0 0 1 1888 972 700 700 0 0 1 1840 290 700 700 0 0 1 1552 708 700 700 0 0 1 2370 1178 700 700 0 0 1 2548 467 700 700 0 0 1 2034 863 700 700 0 0 1 1997 218 700 700 0 0 1 2542 622 700 700 0 0 1 2034 1037 700 700 0 0 1 1979 380 700 700 0 0 1 2508 768 700 700 0 0 1 1936 68"/>
<path class="e" stroke="#a8a84a" d="M1936 68A700 700 0 0 1 1873 645 700 700 0 0 1 2209 1235 700 700 0 0 1 2542 622 700 700 0 0 1 2059 1208 700 700 0 0 1 1710 582 700 700 0 0 1 2370 1178 700 700 0 0 1 2210 567 700 700 0 0 1 1914 1173 700 700 0 0 1 1552 565 700 700 0 0 1 1793 1098 700 700 0 0 1 2038 550 700 700 0 0 1 2500 1080 700 700 0 0 1 2386 523 700 700 0 0 1 2189 1075 700 700 0 0 1 2703 508 700 700 0 0 1 2034 1037 700 700 0 0 1 1865 487 700 700 0 0 1 1648 1032 700 700 0 0 1 2548 467 700 700 0 0 1 2334 1013 700 700 0 0 1 1721 415 700 700 0 0 1 1888 972 700 700 0 0 1 2133 405 700 700 0 0 1 2623 952 700 700 0 0 1 1565 403 700 700 0 0 1 2476 923 700 700 0 0 1 2282 395 700 700 0 0 1 2187 908 700 700 0 0 1 1979 380 700 700 0 0 1 1739 897 700 700 0 0 1 2440 353 700 700 0 0 1 2034 863 700 700 0 0 1 2635 325 700 700 0 0 1 1579 857 700 700 0 0 1 1840 290 700 700 0 0 1 2335 835 700 700 0 0 1 1672 260 700 700 0 0 1 2668 807 700 700 0 0 1 2318 230 700 700 0 0 1 1880 802 700 700 0 0 1 2157 233 700 700 0 0 1 2508 768 700 700 0 0 1 2514 217 700 700 0 0 1 1716 737 700 700 0 0 1 1997 218 700 700 0 0 1 2194 732 700 700 0 0 1 1796 143 700 700 0 0 1 1552 708 700 700 0 0 1 2403 100 700 700 0 0 1 2038 705 700 700 0 0 1 2244 67 700 700 0 0 1 2360 675 700 700 0 0 1 2096 68 700 700 0 0 1 2707 662 700 700 0 0 1 1936 68"/>
<path class="f" stroke="#d04aa4" d="M1936 68A700 700 0 0 1 1796 143M1936 68A700 700 0 0 1 1840 290M1936 68A700 700 0 0 1 1997 218M1936 68A700 700 0 0 1 1979 380M1936 68A700 700 0 0 1 1865 487M1936 68A700 700 0 0 1 1721 415M1936 68A700 700 0 0 1 1672 260M1936 68A700 700 0 0 1 2038 550M1936 68A700 700 0 0 1 2133 405M1936 68A700 700 0 0 1 2157 233M1936 68A700 700 0 0 1 1710 582"/>
<path class="f" stroke="#e58a48" d="M2635 325A700 700 0 0 1 2440 353M2635 325A700 700 0 0 1 2548 467M2635 325A700 700 0 0 1 2386 523M2635 325A700 700 0 0 1 2542 622M2635 325A700 700 0 0 1 2360 675M2635 325A700 700 0 0 1 2508 768M2635 325A700 700 0 0 1 2282 395M2635 325A700 700 0 0 1 2668 807M2635 325A700 700 0 0 1 2476 923M2635 325A700 700 0 0 1 2335 835M2635 325A700 700 0 0 1 2210 567"/>
<path class="f" stroke="#34b2c4" d="M1648 1032A700 700 0 0 1 1739 897M1648 1032A700 700 0 0 1 1793 1098M1648 1032A700 700 0 0 1 1888 972M1648 1032A700 700 0 0 1 1579 857M1648 1032A700 700 0 0 1 1880 802M1648 1032A700 700 0 0 1 1716 737M1648 1032A700 700 0 0 1 1552 708M1648 1032A700 700 0 0 1 2034 1037M1648 1032A700 700 0 0 1 1914 1173M1648 1032A700 700 0 0 1 1873 645M1648 1032A700 700 0 0 1 2034 863"/>
<path class="f" stroke="#38c2c6" d="M2370 1178A700 700 0 0 1 2334 1013M2370 1178A700 700 0 0 1 2189 1075M2370 1178A700 700 0 0 1 2500 1080M2370 1178A700 700 0 0 1 2187 908M2370 1178A700 700 0 0 1 2476 923M2370 1178A700 700 0 0 1 2335 835M2370 1178A700 700 0 0 1 2034 1037M2370 1178A700 700 0 0 1 2059 1208M2370 1178A700 700 0 0 1 2623 952M2370 1178A700 700 0 0 1 2194 732"/>
<path class="f" stroke="#e26452" d="M2209 1235A700 700 0 0 1 2059 1208M2209 1235A700 700 0 0 1 1914 1173M2209 1235A700 700 0 0 1 2189 1075M2209 1235A700 700 0 0 1 2034 1037M2209 1235A700 700 0 0 1 2334 1013M2209 1235A700 700 0 0 1 2187 908M2209 1235A700 700 0 0 1 2034 863M2209 1235A700 700 0 0 1 1793 1098M2209 1235A700 700 0 0 1 1888 972M2209 1235A700 700 0 0 1 2370 1178M2209 1235A700 700 0 0 1 2335 835"/>
<path class="f" stroke="#44a864" d="M2500 1080A700 700 0 0 1 2623 952M2500 1080A700 700 0 0 1 2476 923M2500 1080A700 700 0 0 1 2334 1013M2500 1080A700 700 0 0 1 2335 835M2500 1080A700 700 0 0 1 2508 768M2500 1080A700 700 0 0 1 2187 908M2500 1080A700 700 0 0 1 2360 675M2500 1080A700 700 0 0 1 2668 807M2500 1080A700 700 0 0 1 2542 622M2500 1080A700 700 0 0 1 2189 1075M2500 1080A700 700 0 0 1 2370 1178"/>
<path class="f" stroke="#e87a8a" d="M2703 508A700 700 0 0 1 2548 467M2703 508A700 700 0 0 1 2542 622M2703 508A700 700 0 0 1 2707 662M2703 508A700 700 0 0 1 2668 807M2703 508A700 700 0 0 1 2508 768M2703 508A700 700 0 0 1 2386 523M2703 508A700 700 0 0 1 2360 675M2703 508A700 700 0 0 1 2440 353M2703 508A700 700 0 0 1 2635 325M2703 508A700 700 0 0 1 2623 952"/>
<path class="f" stroke="#6a84d2" d="M1796 143A700 700 0 0 1 1672 260M1796 143A700 700 0 0 1 1840 290M1796 143A700 700 0 0 1 1721 415M1796 143A700 700 0 0 1 1979 380M1796 143A700 700 0 0 1 1865 487M1796 143A700 700 0 0 1 1710 582M1796 143A700 700 0 0 1 1565 403M1796 143A700 700 0 0 1 1997 218M1796 143A700 700 0 0 1 1936 68M1796 143A700 700 0 0 1 1552 565"/>
</g>
<g id="summer-nodes" class="n">
<g id="s-Methylomirabilota"><circle cx="1936" cy="68" r="10" fill="#c43294"/><text x="1936" y="72" font-size="25">Candidatus_Methylomirabilota</text></g>
<g id="s-DO"><circle cx="2096" cy="68" r="18" fill="#3c7c5a"/><text x="2096" y="75" font-size="40">DO</text></g>
<g id="s-Actinomycetota"><circle cx="2244" cy="67" r="16" fill="#2b5a82"/><text x="2244" y="73" font-size="34">Actinomycetota</text></g>
<g id="s-Bacteroidota"><circle cx="2403" cy="100" r="13" fill="#363636"/><text x="2403" y="106" font-size="31">Bacteroidota</text></g>
<g id="s-Acidobacteriota"><circle cx="1796" cy="143" r="15" fill="#5c72c2"/><text x="1796" y="149" font-size="35">Acidobacteriota</text></g>
<g id="s-Gemmatimonadota"><circle cx="1997" cy="218" r="16" fill="#d4a222"/><text x="1997" y="225" font-size="40">Gemmatimonadota</text></g>
<g id="s-Dictyoglomota"><circle cx="2514" cy="217" r="14" fill="#1b92b2"/><text x="2514" y="223" font-size="35">Dictyoglomota</text></g>
<g id="s-Bdellovibrionota"><circle cx="2157" cy="233" r="14" fill="#22c2e2"/><text x="2157" y="239" font-size="34">Bdellovibrionota</text></g>
<g id="s-Cyanobacteriota"><circle cx="2318" cy="230" r="14" fill="#fa922a"/><text x="2318" y="236" font-size="35">Cyanobacteriota</text></g>
<g id="s-Thermoplasmatota"><circle cx="1672" cy="260" r="17" fill="#8c6b4f"/><text x="1672" y="267" font-size="41">Candidatus_Thermoplasmatota</text></g>
<g id="s-Verrucomicrobiota"><circle cx="1840" cy="290" r="14" fill="#55b84a"/><text x="1840" y="296" font-size="35">Verrucomicrobiota</text></g>
<g id="s-TN"><circle cx="2635" cy="325" r="9" fill="#d26c22"/><text x="2635" y="329" font-size="22">TN</text></g>
<g id="s-Myxococcota"><circle cx="2440" cy="353" r="19" fill="#203c20"/><text x="2440" y="360" font-size="40">Myxococcota</text></g>
<g id="s-WWE3"><circle cx="1979" cy="380" r="17" fill="#faaa32"/><text x="1979" y="387" font-size="40">Candidate_division_WWE3</text></g>
<g id="s-Nitrososphaerota"><circle cx="2282" cy="395" r="17" fill="#f27222"/><text x="2282" y="402" font-size="40">Nitrososphaerota</text></g>
<g id="s-Yanofskybacteria"><circle cx="1565" cy="403" r="9" fill="#42b2e2"/><text x="1565" y="408" font-size="26">Candidatus_Yanofskybacteria</text></g>
<g id="s-Euryarchaeota"><circle cx="2133" cy="405" r="17" fill="#6c5632"/><text x="2133" y="412" font-size="40">Euryarchaeota</text></g>
<g id="s-Beckwithbacteria"><circle cx="1721" cy="415" r="13" fill="#2272b2"/><text x="1721" y="421" font-size="32">Candidatus_Beckwithbacteria</text></g>
<g id="s-Melainabacteria"><circle cx="2548" cy="467" r="16" fill="#fa9252"/><text x="2548" y="474" font-size="40">Candidatus_Melainabacteria</text></g>
<g id="s-TP"><circle cx="1865" cy="487" r="17" fill="#127232"/><text x="1865" y="494" font-size="38">TP</text></g>
<g id="s-Paceibacterota"><circle cx="2703" cy="508" r="9" fill="#e2b292"/><text x="2708" y="513" font-size="27">Candidatus_Paceibacterota</text></g>
<g id="s-Mycoplasmatota"><circle cx="2386" cy="523" r="14" fill="#128262"/><text x="2386" y="529" font-size="36">Mycoplasmatota</text></g>
<g id="s-CODMn"><circle cx="2038" cy="550" r="16" fill="#da6aaa"/><text x="2038" y="557" font-size="41">CODMn</text></g>
<g id="s-Absconditabacteria"><circle cx="1552" cy="565" r="16" fill="#e282ba"/><text x="1552" y="572" font-size="41">Candidatus_Absconditabacteria</text></g>
<g id="s-Campylobacterota"><circle cx="2210" cy="567" r="16" fill="#92c222"/><text x="2210" y="574" font-size="40">Campylobacterota</text></g>
<g id="s-Chlamydiota"><circle cx="1710" cy="582" r="17" fill="#1c4c4a"/><text x="1710" y="589" font-size="40">Chlamydiota</text></g>
<g id="s-Falkowbacteria"><circle cx="2542" cy="622" r="16" fill="#12bad9"/><text x="2542" y="629" font-size="40">Candidatus_Falkowbacteria</text></g>
<g id="s-Ignavibacteriota"><circle cx="1873" cy="645" r="15" fill="#22b272"/><text x="1873" y="652" font-size="40">Ignavibacteriota</text></g>
<g id="s-Planctomycetota"><circle cx="2707" cy="662" r="14" fill="#74caae"/><text x="2707" y="668" font-size="36">Planctomycetota</text></g>
<g id="s-Amesbacteria"><circle cx="2360" cy="675" r="16" fill="#718292"/><text x="2360" y="682" font-size="40">Candidatus_Amesbacteria</text></g>
<g id="s-AN"><circle cx="2038" cy="705" r="15" fill="#dcaad4"/><text x="2038" y="712" font-size="38">AN</text></g>
<g id="s-Nomurabacteria"><circle cx="1552" cy="708" r="17" fill="#dcaad4"/><text x="1552" y="715" font-size="40">Candidatus_Nomurabacteria</text></g>
<g id="s-Deinococcota"><circle cx="2194" cy="732" r="17" fill="#f22a4c"/><text x="2194" y="739" font-size="40">Deinococcota</text></g>
<g id="s-Rhodothermota"><circle cx="1716" cy="737" r="16" fill="#32b232"/><text x="1716" y="744" font-size="41">Rhodothermota</text></g>
<g id="s-Nitrospirota"><circle cx="2508" cy="768" r="16" fill="#e2b4dc"/><text x="2508" y="775" font-size="40">Nitrospirota</text></g>
<g id="s-Saccharibacteria"><circle cx="1880" cy="802" r="16" fill="#22b282"/><text x="1880" y="809" font-size="40">Candidatus_Saccharibacteria</text></g>
<g id="s-Pseudomonadota"><circle cx="2668" cy="807" r="14" fill="#f26278"/><text x="2668" y="813" font-size="36">Pseudomonadota</text></g>
<g id="s-Fusobacteriota"><circle cx="2335" cy="835" r="16" fill="#a257a2"/><text x="2335" y="842" font-size="40">Fusobacteriota</text></g>
<g id="s-Chlorobiota"><circle cx="1579" cy="857" r="14" fill="#92ba62"/><text x="1579" y="863" font-size="34">Chlorobiota</text></g>
<g id="s-Spirochaetota"><circle cx="2034" cy="863" r="17" fill="#f22282"/><text x="2034" y="870" font-size="40">Spirochaetota</text></g>
<g id="s-BOD5"><circle cx="1739" cy="897" r="15" fill="#fa5242"/><text x="1739" y="903" font-size="35">BOD5</text></g>
<g id="s-WT"><circle cx="2187" cy="908" r="17" fill="#c2ba42"/><text x="2187" y="915" font-size="38">WT</text></g>
<g id="s-Microgenomates"><circle cx="2476" cy="923" r="11" fill="#5c2c1c"/><text x="2476" y="928" font-size="26">Candidatus_Microgenomates</text></g>
<g id="s-Thermomicrobiota"><circle cx="2623" cy="952" r="19" fill="#5c3a72"/><text x="2623" y="959" font-size="40">Thermomicrobiota</text></g>
<g id="s-others"><circle cx="1888" cy="972" r="16" fill="#4b6b2e"/><text x="1888" y="978" font-size="36">others</text></g>
<g id="s-COD"><circle cx="2334" cy="1013" r="17" fill="#6c8c32"/><text x="2334" y="1020" font-size="40">COD</text></g>
<g id="s-Berkelbacteria"><circle cx="1648" cy="1032" r="9" fill="#22aac2"/><text x="1648" y="1036" font-size="21">Candidatus_Berkelbacteria</text></g>
<g id="s-Bacillota"><circle cx="2034" cy="1037" r="18" fill="#12b2a2"/><text x="2034" y="1044" font-size="40">Bacillota</text></g>
<g id="s-Thermodesulfobacteriota"><circle cx="2189" cy="1075" r="17" fill="#da82ca"/><text x="2189" y="1082" font-size="40">Thermodesulfobacteriota</text></g>
<g id="s-Vulcanimicrobiota"><circle cx="2500" cy="1080" r="18" fill="#128c32"/><text x="2500" y="1087" font-size="40">Vulcanimicrobiota</text></g>
<g id="s-pH"><circle cx="1793" cy="1098" r="17" fill="#c26a8a"/><text x="1793" y="1106" font-size="42">pH</text></g>
<g id="s-Armatimonadota"><circle cx="1914" cy="1173" r="17" fill="#f99282"/><text x="1914" y="1180" font-size="40">Armatimonadota</text></g>
<g id="s-Balneolota"><circle cx="2370" cy="1178" r="10" fill="#22c2ca"/><text x="2370" y="1182" font-size="25">Balneolota</text></g>
<g id="s-Chloroflexota"><circle cx="2059" cy="1208" r="17" fill="#6c2242"/><text x="2059" y="1214" font-size="36">Chloroflexota</text></g>
<g id="s-Moraniibacteriota"><circle cx="2209" cy="1235" r="11" fill="#b23222"/><text x="2209" y="1239" font-size="25">Candidatus_Moraniibacteriota</text></g>
</g>
<text class="t" x="2245" y="1333">summer</text>
</g>
</svg>
